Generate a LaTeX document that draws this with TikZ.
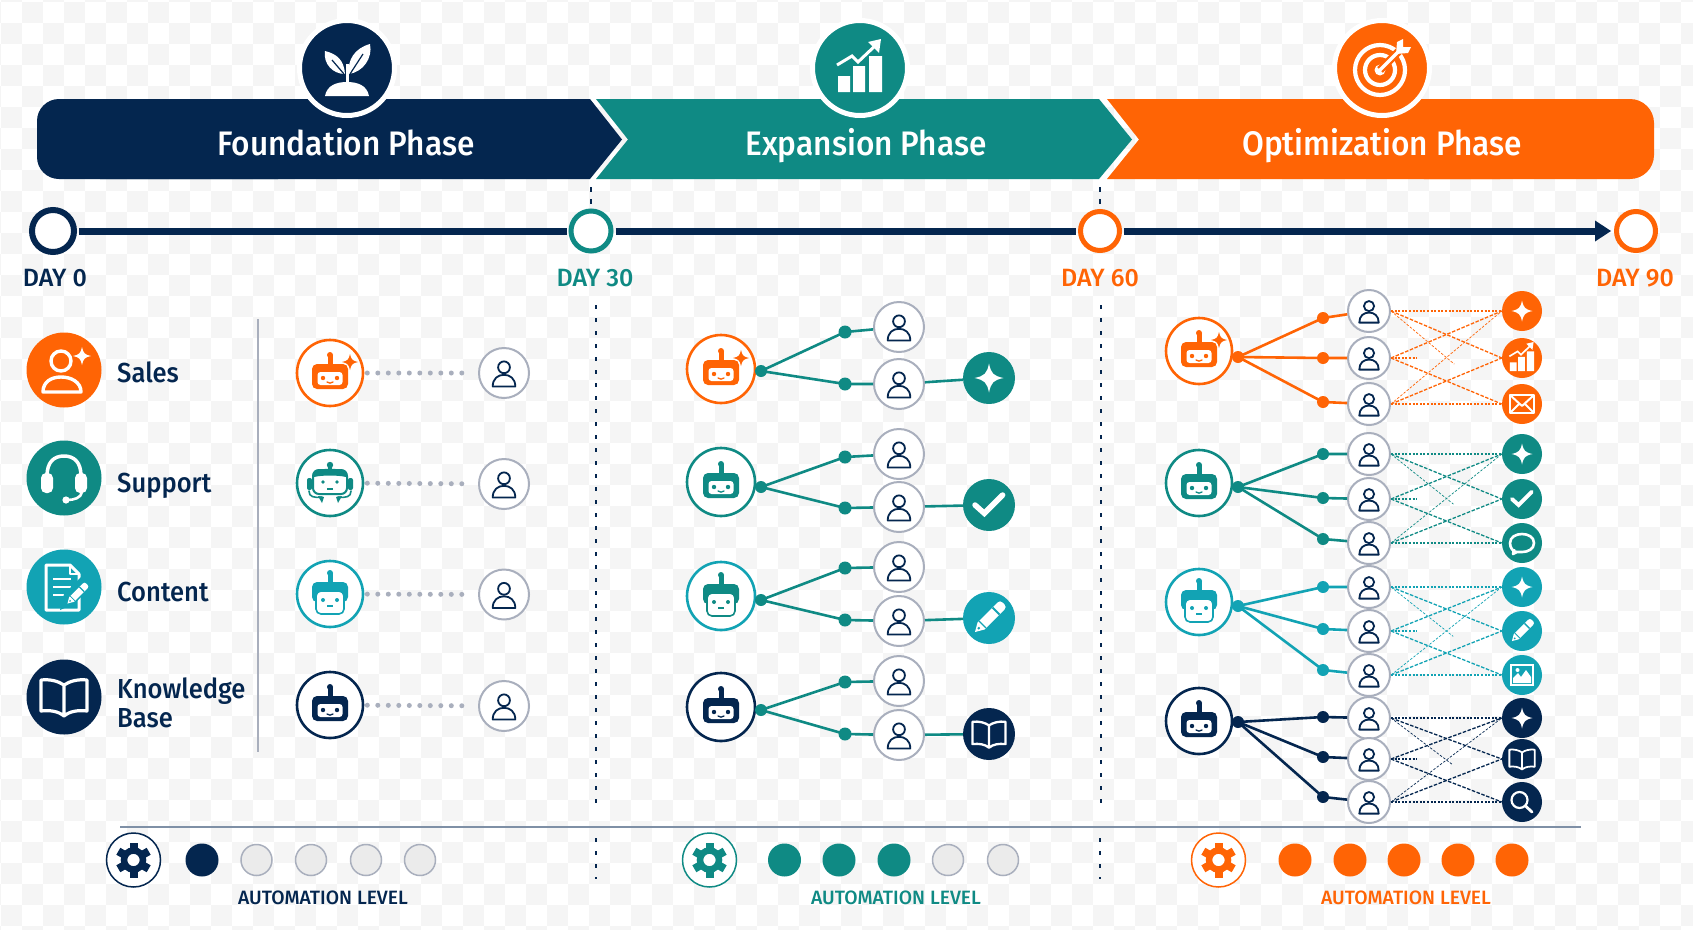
\documentclass[tikz,border=0pt]{standalone}
\usepackage{fontspec}
\setmainfont{Fira Sans}
\newfontfamily\medf{Fira Sans Medium}
\newfontfamily\medn{Fira Sans Medium}[FakeStretch=0.93]
\definecolor{navy}{HTML}{04264F}
\definecolor{teal2}{HTML}{0F8A84}
\definecolor{cyan2}{HTML}{12A3B4}
\definecolor{orng}{HTML}{FF6405}
\definecolor{gry}{HTML}{A9AFBD}
\definecolor{chk}{HTML}{F5F5F5}
\definecolor{rulec}{HTML}{7F90A6}
\tikzset{
 ringnode/.style={circle,fill=white,draw=#1,line width=5pt,minimum size=40pt,inner sep=0pt},
 daylab/.style={font=\medf\fontsize{25}{25}\selectfont,inner sep=0pt,anchor=base},
 rolelab/.style={font=\medn\fontsize{27.5}{28}\selectfont,text=navy,inner sep=0pt,anchor=base west},
 banlab/.style={font=\medn\fontsize{34}{34}\selectfont,text=white,inner sep=0pt,anchor=base},
 levlab/.style={font=\medf\fontsize{19.3}{19.3}\selectfont,inner sep=0pt,anchor=base},
 botnode/.style={circle,fill=white,draw=#1,line width=2.6pt,minimum size=66pt,inner sep=0pt},
 pernode/.style={circle,fill=white,draw=gry,line width=2pt,minimum size=50pt,inner sep=0pt},
 perthree/.style={circle,fill=white,draw=gry,line width=2pt,minimum size=42pt,inner sep=0pt},
 dotnode/.style={circle,fill=#1,minimum size=12pt,inner sep=0pt},
 outnode/.style={circle,fill=#1,minimum size=52pt,inner sep=0pt},
 outthree/.style={circle,fill=#1,minimum size=40pt,inner sep=0pt},
 rolenode/.style={circle,fill=#1,minimum size=75pt,inner sep=0pt},
 headnode/.style={circle,fill=#1,draw=white,line width=5pt,minimum size=95pt,inner sep=0pt},
 levon/.style={circle,fill=#1,minimum size=33pt,inner sep=0pt},
 levoff/.style={circle,fill=black!8,draw=gry,line width=1.5pt,minimum size=31pt,inner sep=0pt},
 gearnode/.style={circle,fill=white,draw=#1,line width=1.5pt,minimum size=54pt,inner sep=0pt},
 dotted1/.style={draw=gry,line width=5pt,line cap=round,dash pattern=on 0pt off 10.5pt},
 vdash/.style={draw=navy,line width=2pt,dash pattern=on 4pt off 9pt},
 xsame/.style={line width=1.5pt,dash pattern=on 2pt off 1.6pt},
 xcross/.style={line width=1.3pt,dash pattern=on 3.5pt off 1.6pt},
 xthin/.style={line width=0.7pt,dash pattern=on 2.5pt off 1.6pt},
}
% icons
\newcommand\icperson[2]{\begin{scope}[shift={(#1)},scale=#2]
 \draw[navy,line width=1.8pt] (0,-5.7) circle (5.9);
 \draw[navy,line width=1.8pt,line join=round] (-11.3,13.5) .. controls (-11.3,5.5) and (-6,1.8) .. (0,1.8) .. controls (6,1.8) and (11.3,5.5) .. (11.3,13.5) -- cycle;
\end{scope}}
\newcommand\icsparkle[3]{\begin{scope}[shift={(#1)},scale=#2]
 \fill[#3] (0,-1) .. controls (0.15,-0.3) and (0.3,-0.15) .. (1,0) .. controls (0.3,0.15) and (0.15,0.3) .. (0,1) .. controls (-0.15,0.3) and (-0.3,0.15) .. (-1,0) .. controls (-0.3,-0.15) and (-0.15,-0.3) .. cycle;
\end{scope}}
\newcommand\icrobot[2]{\begin{scope}[shift={(#1)}]
 \fill[#2] (-2.5,-8) rectangle (2.5,-18); \fill[#2] (0,-18) circle (3);
 \fill[#2,rounded corners=5pt] (-18,-9) rectangle (18,16);
 \fill[white,rounded corners=3pt] (-12.5,-1) rectangle (12.5,12);
 \fill[#2] (-7,5) circle (2.2) (7,5) circle (2.2);
 \draw[#2,line width=1.3pt,line cap=round] (-3,9) .. controls (-1,10.5) and (1,10.5) .. (3,9);
\end{scope}}
\newcommand\icrobotc[2]{\begin{scope}[shift={(#1)}]
 \fill[#2] (-2.5,-10) rectangle (2.5,-21); \fill[#2] (0,-21) circle (3);
 \fill[#2,rounded corners=5pt] (-18,-12) rectangle (18,8);
 \filldraw[fill=white,draw=#2,line width=1.6pt,rounded corners=5pt] (-14,-3) rectangle (14,20);
 \fill[#2] (-7,6) circle (2) (7,6) circle (2);
 \fill[#2] (-3,11) rectangle (3,12.5);
\end{scope}}
\newcommand\icroboth[2]{\begin{scope}[shift={(#1)}]
 \fill[#2] (0,-18) circle (3.2);
 \fill[#2] (-2,-18) rectangle (2,-12);
 \filldraw[fill=white,draw=#2,line width=2pt,rounded corners=6pt] (-17,-13) rectangle (17,11);
 \fill[#2] (-16,-12) .. controls (-8,-15) and (8,-15) .. (16,-12) -- (16,-6) .. controls (8,-8) and (-8,-8) .. (-16,-6) -- cycle;
 \fill[#2,rounded corners=2pt] (-23,-5) rectangle (-18,7);
 \fill[#2,rounded corners=2pt] (18,-5) rectangle (23,7);
 \fill[#2] (-7,-1) circle (1.8) (7,-1) circle (1.8);
 \fill[#2] (-3,5) rectangle (3,6.5);
 \draw[#2,line width=1.6pt,line cap=round] (-21,8) .. controls (-21,14) and (-16,15) .. (-8,14);
 \draw[#2,line width=1.6pt,line cap=round] (21,8) .. controls (21,14) and (16,15) .. (8,14);
 \fill[#2] (-12,13) -- (-8,20) -- (-6,14) -- cycle (12,13) -- (8,20) -- (6,14) -- cycle;
\end{scope}}
\newcommand\iccheck[3]{\begin{scope}[shift={(#1)},scale=#2]
 \draw[#3,line width=#2*5.5pt,line cap=round,line join=miter] (-14,0) -- (-4.7,8.3) -- (13.6,-10);
\end{scope}}
\newcommand\icbook[3]{\begin{scope}[shift={(#1)},scale=#2]
 \draw[#3,line width=#2*3.2pt,line join=round] (0,-12) .. controls (-6,-16) and (-14,-18) .. (-23,-17) -- (-23,14) .. controls (-14,13) and (-6,14) .. (0,19) .. controls (6,14) and (14,13) .. (23,14) -- (23,-17) .. controls (14,-18) and (6,-16) .. (0,-12) -- (0,19);
\end{scope}}
\newcommand\icpencil[3]{\begin{scope}[shift={(#1)},scale=#2]
 \fill[white,line join=round] (-14,14) -- (-11.5,4.5) -- (8.5,-15.5) .. controls (10,-17) and (12,-17) .. (13.5,-15.5) -- (15.5,-13.5) .. controls (17,-12) and (17,-10) .. (15.5,-8.5) -- (-4.5,11.5) -- cycle;
 \draw[#3,line width=#2*1.8pt] (3.5,-10.5) -- (10.5,-3.5);
 \draw[#3,line width=#2*1.2pt] (-10,3) -- (-3,10);
 \fill[#3] (-10.2,10.2) circle (1.4);
\end{scope}}
\newcommand\icchart[3]{\begin{scope}[shift={(#1)},scale=#2]
 \fill[white] (-22,8) rectangle (-10,24) (-7,-2) rectangle (5,24) (9,-12) rectangle (22,24);
 \draw[white,line width=#2*3pt,line join=miter] (-23,-3) -- (-8,-12) -- (-2,-6) -- (17,-24);
 \fill[white] (21,-29) -- (8,-26) -- (19,-15) -- cycle;
\end{scope}}
\newcommand\icenvelope[2]{\begin{scope}[shift={(#1)},scale=1]
 \draw[white,line width=2pt,line join=round] (-12,-9) rectangle (12,9);
 \draw[white,line width=2pt,line join=round] (-12,-9) -- (0,2) -- (12,-9) (-12,9) -- (-3,0) (12,9) -- (3,0);
\end{scope}}
\newcommand\icchat[2]{\begin{scope}[shift={(#1)}]
 \draw[white,line width=2.6pt,line join=round] (-5,9) .. controls (-9,9) and (-12,5) .. (-12,0) .. controls (-12,-6) and (-6,-9) .. (0,-9) .. controls (6,-9) and (12,-6) .. (12,0) .. controls (12,6) and (6,9) .. (0,9) .. controls (-2,9) and (-4,9) .. (-5,9) -- (-9,11) -- (-8,6);
\end{scope}}
\newcommand\icimage[2]{\begin{scope}[shift={(#1)}]
 \draw[white,line width=2pt] (-11,-10) rectangle (11,10);
 \fill[white] (-9,8) -- (-9,3) -- (-4,-2) -- (-1,2) -- (4,-5) -- (9,2) -- (9,8) -- cycle;
 \fill[white] (-4.5,-5) circle (2);
\end{scope}}
\newcommand\icsearch[2]{\begin{scope}[shift={(#1)}]
 \draw[white,line width=2.2pt] (-2.5,-2) circle (8);
 \draw[white,line width=2.8pt,line cap=round] (3.5,4) -- (10,10);
\end{scope}}
\newcommand\icgear[2]{\begin{scope}[shift={(#1)}]
 \draw[#2,line width=6.5pt] (0,0) circle (9.5);
 \foreach \a in {0,60,...,300} {\fill[#2,rotate=\a] (-4,-17.5) rectangle (4,-10);}
\end{scope}}
\begin{document}
\begin{tikzpicture}[x=1pt,y=-1pt]
\useasboundingbox (0,0) rectangle (1693,929);
\fill[white] (0,0) rectangle (1693,929);
\foreach \i in {0,...,81}{\foreach \j in {0,...,45}{
  \pgfmathtruncatemacro\m{mod(\i+\j,2)}
  \ifnum\m=1 \fill[chk] ({\i*21+1-21},{\j*21+2-21}) rectangle ++(21,21);\fi}}
% banners
\fill[navy,rounded corners=22pt] (37,99) -- (37,179) -- (300,179) -- (300,99) -- cycle;
\fill[navy] (100,99) -- (590,99) -- (622,139.5) -- (590,179) -- (100,179) -- cycle;
\fill[teal2] (596,99) -- (1099,99) -- (1132,139.5) -- (1099,179) -- (596,179) -- (628,139.5) -- cycle;
\fill[orng] (1107,99) -- (1500,99) -- (1500,179) -- (1107,179) -- (1139,139.5) -- cycle;
\fill[orng,rounded corners=24pt] (1400,99) -- (1654,99) -- (1654,179) -- (1400,179) -- cycle;
\node[banlab] (tf) at (346,155) {Foundation Phase};
\node[banlab] (te) at (866,155) {Expansion Phase};
\node[banlab] (to) at (1382,155) {Optimization Phase};
\node[headnode=navy] (hf) at (347,68) {};
\node[headnode=teal2] (he) at (860,68) {};
\node[headnode=orng] (ho) at (1382,68) {};
% plant
\begin{scope}[shift={(hf)}]
 \fill[white] (-22,28) .. controls (-20,17) and (-10,14) .. (0,14) .. controls (10,14) and (20,17) .. (22,28) -- cycle;
 \draw[white,line width=3pt] (0,16) -- (0,-4);
 \fill[white] (-2,6) .. controls (-14,6) and (-24,-4) .. (-22,-17) .. controls (-10,-14) and (-3,-8) .. cycle;
 \fill[white] (2,6) .. controls (16,4) and (26,-10) .. (23,-24) .. controls (8,-20) and (0,-8) .. cycle;
 \draw[navy,line width=1.2pt] (-15,-8) -- (-3,6) (16,-14) -- (3,6);
\end{scope}
\icchart{he}{1}{white}
% target
\begin{scope}[shift={(ho)}]
 \draw[white,line width=4.2pt] (-2,2) circle (25);
 \draw[white,line width=4.2pt] (-2,2) circle (15);
 \fill[white] (-2,2) circle (5.5);
 \draw[orng,line width=8pt] (-2,2) -- (24,-24);
 \draw[white,line width=3.5pt,line cap=round] (-2,2) -- (20,-20);
 \fill[white] (14,-14) -- (15,-26) -- (21,-29) -- (21,-21) -- (29,-21) -- (26,-15) -- cycle;
\end{scope}
% timeline
\node[ringnode=navy,line width=6pt,minimum size=42pt] (d0) at (53,231) {};
\node[ringnode=teal2,minimum size=40pt] (d30) at (591,231) {};
\node[ringnode=orng,minimum size=39pt] (d60) at (1100,231) {};
\node[ringnode=orng,minimum size=39pt] (d90) at (1636,231) {};
\draw[navy,line width=7pt,shorten <=2pt,shorten >=2pt] (d0) -- (d30);
\draw[navy,line width=7pt,shorten <=2pt,shorten >=2pt] (d30) -- (d60);
\draw[navy,line width=7pt,shorten <=2pt,shorten >=18pt] (d60) -- (d90);
\fill[navy] (1595,220.5) -- (1611,231) -- (1595,241.5) -- cycle;
\node[daylab,text=navy] (l0) at (55,286) {DAY 0};
\node[daylab,text=teal2] (l30) at (595,286) {DAY 30};
\node[daylab,text=orng] (l60) at (1100,286) {DAY 60};
\node[daylab,text=orng] (l90) at (1635,286) {DAY 90};
\coordinate (va1) at (591,187); \coordinate (va2) at (591,204);
\coordinate (vb1) at (1100,187); \coordinate (vb2) at (1100,204);
\draw[vdash,dash pattern=on 5pt off 7pt] (va1) -- (va2);
\draw[vdash,dash pattern=on 5pt off 7pt] (vb1) -- (vb2);
\coordinate (vc1) at (596,305); \coordinate (vc2) at (596,806);
\coordinate (vd1) at (1101,305); \coordinate (vd2) at (1101,806);
\draw[vdash] (vc1) -- (vc2);
\draw[vdash] (vd1) -- (vd2);
\coordinate (ve1) at (596,838); \coordinate (ve2) at (596,879);
\coordinate (vf1) at (1100,838); \coordinate (vf2) at (1100,879);
\draw[vdash] (ve1) -- (ve2);
\draw[vdash] (vf1) -- (vf2);
% roles
\node[rolenode=orng] (r1) at (64,370) {};
\node[rolenode=teal2] (r2) at (64,478) {};
\node[rolenode=cyan2] (r3) at (64,587) {};
\node[rolenode=navy] (r4) at (64,697) {};
\node[rolelab] (rt1) at (117,382) {Sales};
\node[rolelab] (rt2) at (117,492) {Support};
\node[rolelab] (rt3) at (117,601) {Content};
\node[rolelab] (rt4) at (117,698) {Knowledge};
\node[rolelab] (rt5) at (117,727) {Base};
% sales icon
\begin{scope}[shift={(r1)}]
 \draw[white,line width=3.4pt] (-3,-9) circle (10);
 \draw[white,line width=3.4pt,line join=round] (-21,22) .. controls (-21,12) and (-13,7) .. (-3,7) .. controls (7,7) and (17,12) .. (17,22) -- cycle;
\end{scope}
\coordinate (rs) at (82,356); \icsparkle{rs}{9}{white}
% headset icon
\begin{scope}[shift={(r2)}]
 \draw[white,line width=3.5pt] (-17,-2) .. controls (-17,-16) and (-10,-22) .. (0,-22) .. controls (10,-22) and (17,-16) .. (17,-2);
 \fill[white,rounded corners=5pt] (-23,-5) rectangle (-11,15);
 \fill[white,rounded corners=5pt] (11,-5) rectangle (23,15);
 \draw[white,line width=2.6pt] (18,14) .. controls (17,20) and (10,22) .. (3,22);
 \fill[white] (2,22) circle (3.6);
\end{scope}
% doc icon
\begin{scope}[shift={(r3)}]
 \draw[white,line width=3pt,line join=round] (-18,-22) -- (6,-22) -- (15,-13) -- (15,23) -- (-18,23) -- cycle;
 \draw[white,line width=2pt,line join=round] (6,-22) -- (6,-13) -- (15,-13);
 \draw[white,line width=2.6pt] (-11,-8) -- (7,-8) (-11,0) -- (7,0) (-11,8) -- (0,8);
\end{scope}
\coordinate (rp) at (77,594);
\fill[cyan2] (rp) ++(-14,14) ++(1,-14) -- ++(20,-20) -- ++(10,10) -- ++(-20,20) -- ++(-14,6) -- cycle;
\icpencil{rp}{0.68}{cyan2}
\icbook{r4}{1}{white}
\coordinate (vl1) at (258,319); \coordinate (vl2) at (258,752);
\draw[gry,line width=1.5pt] (vl1) -- (vl2);
% stage 1
\foreach \k/\by/\py/\cc in {a/373/373/orng,b/483/484/teal2,c/594/594.5/cyan2,d/705/706/navy}{
 \node[botnode=\cc] (s\k) at (330,\by) {};
 \node[pernode] (sp\k) at (504,\py) {};
 \draw[dotted1,shorten <=3pt,shorten >=6pt] (s\k) -- (sp\k);
 \icperson{sp\k}{1}
}
\icrobot{sa}{orng} \coordinate (ss1) at (350,362); \icsparkle{ss1}{8}{orng}
\icroboth{sb}{teal2}
\icrobotc{sc}{cyan2}
\icrobot{sd}{navy}
% stage 2
\foreach \k/\by/\hy/\ma/\mb/\pa/\pb/\oy/\cc/\oc in {
 a/369/371/332/384/327/384/378/orng/teal2,
 b/482/487/457/508/454/507/505/teal2/teal2,
 c/596/600/568/620/567/621/618/cyan2/cyan2,
 d/707/710/682/734/681/735/734/navy/navy}{
 \node[botnode=\cc,minimum size=68pt] (t\k) at (721,\by) {};
 \node[dotnode=teal2] (th\k) at (761,\hy) {};
 \node[dotnode=teal2,minimum size=13pt] (tma\k) at (845,\ma) {};
 \node[dotnode=teal2,minimum size=13pt] (tmb\k) at (845,\mb) {};
 \node[pernode] (tpa\k) at (899,\pa) {};
 \node[pernode] (tpb\k) at (899,\pb) {};
 \node[outnode=\oc] (to\k) at (989,\oy) {};
 \draw[teal2,line width=2.6pt] (th\k.center) -- (tma\k.center) -- (tpa\k);
 \draw[teal2,line width=2.6pt] (th\k.center) -- (tmb\k.center) -- (tpb\k);
 \draw[teal2,line width=2.6pt] (tpb\k) -- (to\k);
 \icperson{tpa\k}{1}
 \icperson{tpb\k}{1}
}
\icrobot{ta}{orng} \coordinate (ts1) at (741,358); \icsparkle{ts1}{8}{orng}
\icrobot{tb}{teal2}
\icrobotc{tc}{teal2}
\icrobot{td}{navy}
\icsparkle{toa}{14.5}{white}
\iccheck{tob}{1}{white}
\icpencil{toc}{1}{cyan2}
\icbook{tod}{0.72}{white}
% stage 3
\foreach \k/\by/\hy/\ma/\mb/\mc/\pa/\pb/\pc/\cc in {
 a/351/357/318/358/402/311/358/404/orng,
 b/483/487/454/498/539/454/499/543/teal2,
 c/602/606/587/629/670/587/631/675/cyan2,
 d/721/722/717/757/797/718/759/802/navy}{
 \node[botnode=\cc] (u\k) at (1199,\by) {};
 \node[dotnode=\cc] (uh\k) at (1238,\hy) {};
 \node[perthree] (upa\k) at (1369,\pa) {};
 \node[perthree] (upb\k) at (1369,\pb) {};
 \node[perthree] (upc\k) at (1369,\pc) {};
 \node[outthree=\cc] (uoa\k) at (1522,\pa) {};
 \node[outthree=\cc] (uob\k) at (1522,\pb) {};
 \node[outthree=\cc] (uoc\k) at (1522,\pc) {};
 \foreach \n/\my in {a/\ma,b/\mb,c/\mc}{
  \node[dotnode=\cc] (um\n\k) at (1323,\my) {};
  \draw[\cc,line width=2.6pt] (uh\k.center) -- (um\n\k.center) -- (up\n\k);
 }
 \draw[xsame,draw=\cc] (upa\k.east) -- (uoa\k.west);
 \draw[xsame,draw=\cc] (upc\k.east) -- (uoc\k.west);
 \draw[xsame,draw=\cc,shorten >=85pt] (upb\k.east) -- (uob\k.west);
 \draw[xcross,draw=\cc] (upa\k.east) -- (uob\k.west);
 \draw[xcross,draw=\cc] (upb\k.east) -- (uoa\k.west);
 \draw[xcross,draw=\cc] (upb\k.east) -- (uoc\k.west);
 \draw[xcross,draw=\cc] (upc\k.east) -- (uob\k.west);
 \draw[xthin,draw=\cc,shorten >=62pt] (upa\k.east) -- (uoc\k.west);
 \draw[xthin,draw=\cc] (upc\k.east) -- (uoa\k.west);
 \icperson{upa\k}{0.86}
 \icperson{upb\k}{0.86}
 \icperson{upc\k}{0.86}
 \icsparkle{uoa\k}{10.5}{white}
}
\icrobot{ua}{orng} \coordinate (us1) at (1219,340); \icsparkle{us1}{8}{orng}
\icrobot{ub}{teal2}
\icrobotc{uc}{cyan2}
\icrobot{ud}{navy}
\icchart{uoba}{0.55}{white}
\iccheck{uobb}{0.72}{white}
\icpencil{uobc}{0.72}{cyan2}
\icbook{uobd}{0.55}{white}
\icenvelope{uoca}{white}
\icchat{uocb}{white}
\icimage{uocc}{white}
\icsearch{uocd}{white}
% bottom
\coordinate (hl1) at (120,827); \coordinate (hl2) at (1581,827);
\draw[rulec,line width=1.6pt] (hl1) -- (hl2);
\node[gearnode=navy] (g1) at (133.5,860) {};
\node[gearnode=teal2] (g2) at (709.5,860) {};
\node[gearnode=orng] (g3) at (1218.5,860) {};
\icgear{g1}{navy}
\icgear{g2}{teal2}
\icgear{g3}{orng}
\node[levon=navy] (la1) at (202,860) {};
\foreach \n/\x in {2/256.5,3/311,4/366,5/420}{\node[levoff] (la\n) at (\x,860) {};}
\foreach \n/\x in {1/784.5,2/839,3/894}{\node[levon=teal2] (lb\n) at (\x,860) {};}
\foreach \n/\x in {4/948,5/1003}{\node[levoff] (lb\n) at (\x,860) {};}
\foreach \n/\x in {1/1295,2/1350,3/1404,4/1458,5/1512}{\node[levon=orng] (lc\n) at (\x,860) {};}
\node[levlab,text=navy] (lt1) at (323,904) {AUTOMATION LEVEL};
\node[levlab,text=teal2] (lt2) at (896,904) {AUTOMATION LEVEL};
\node[levlab,text=orng] (lt3) at (1406,904) {AUTOMATION LEVEL};
\end{tikzpicture}
\end{document}
